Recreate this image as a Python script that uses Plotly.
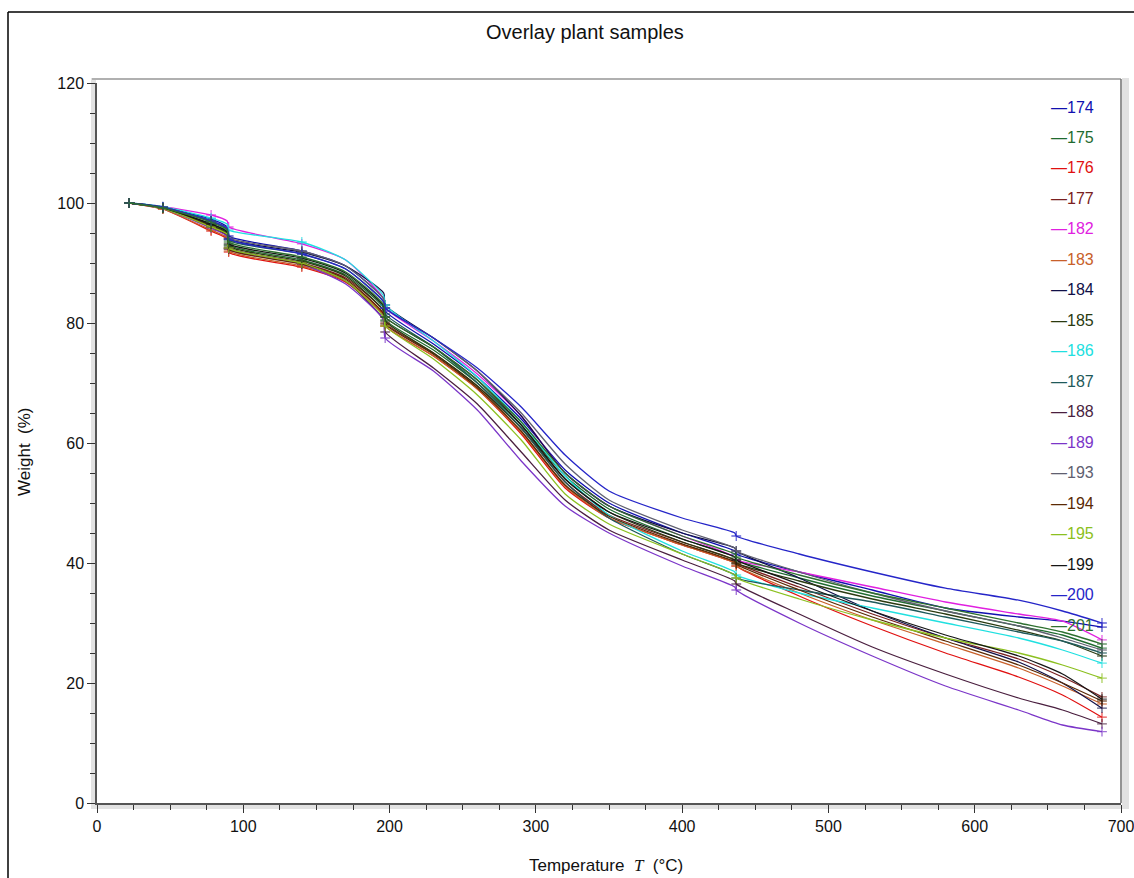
import plotly.graph_objects as go

# ---------------- data ----------------
temps = [22, 45, 78, 89, 90, 140, 170, 196, 197, 230, 260, 290, 320, 350,
         400, 436, 437, 480, 530, 580, 630, 660, 687]
marker_temps = [22, 45, 78, 90, 140, 197, 437, 687]

sample_ids = ["174", "175", "176", "177", "182", "183", "184", "185", "186",
              "187", "188", "189", "193", "194", "195", "199", "200", "201"]

colors = ["#1010B0", "#1F6B2F", "#E01010", "#7A2020", "#E020E0", "#C8602A",
          "#101048", "#2A3A10", "#20E0E0", "#1F5A5A", "#4A1F3F", "#7B35C8",
          "#606070", "#5A2A05", "#8CC020", "#151515", "#2525C8", "#2E7030"]

w174 = [100, 99.3, 97.3, 96.0, 94.5, 92.0, 89.5, 84.0, 82.0, 76.5, 71.0, 64.0, 55.5, 50.0, 45.0, 42.0, 41.5, 38.5, 35.5, 32.5, 31.0, 30.3, 29.3]
w175 = [100, 99.2, 96.5, 95.3, 93.0, 90.5, 88.0, 82.5, 80.5, 75.5, 70.0, 63.0, 54.5, 49.0, 44.0, 41.0, 40.5, 37.5, 34.5, 32.0, 29.5, 28.0, 25.8]
w176 = [100, 99.0, 95.3, 94.0, 91.8, 89.3, 86.8, 81.2, 79.5, 74.5, 69.0, 61.5, 52.5, 47.5, 43.0, 40.0, 39.5, 34.5, 29.5, 25.0, 21.0, 18.0, 14.3]
w177 = [100, 99.2, 96.2, 94.8, 92.5, 90.0, 87.5, 82.0, 80.0, 75.0, 69.5, 62.5, 53.5, 48.0, 43.5, 40.5, 40.0, 36.0, 31.5, 27.5, 24.0, 21.0, 17.7]
w182 = [100, 99.4, 98.0, 97.0, 96.0, 93.2, 90.5, 84.0, 82.5, 77.0, 71.5, 64.5, 55.0, 49.5, 44.5, 41.0, 40.5, 38.5, 36.0, 33.5, 31.5, 30.3, 27.2]
w183 = [100, 99.0, 95.5, 94.2, 92.0, 89.5, 87.0, 81.5, 79.5, 74.5, 69.0, 61.8, 52.8, 47.5, 43.0, 40.0, 39.5, 35.0, 30.5, 26.5, 22.5, 19.5, 16.5]
w184 = [100, 99.3, 97.0, 95.8, 94.0, 91.8, 89.5, 85.0, 83.0, 77.5, 72.0, 64.5, 55.0, 49.5, 45.0, 42.5, 42.0, 37.5, 32.0, 27.5, 23.5, 20.0, 15.8]
w185 = [100, 99.2, 96.3, 95.0, 92.8, 90.3, 87.8, 82.0, 80.3, 75.0, 69.5, 62.5, 54.0, 48.5, 43.5, 40.5, 40.0, 37.0, 34.0, 31.5, 28.8, 27.0, 24.5]
w186 = [100, 99.4, 97.5, 96.5, 95.5, 93.5, 90.5, 84.5, 83.0, 77.0, 71.0, 63.5, 54.5, 48.0, 42.0, 38.5, 38.0, 35.0, 32.5, 30.0, 27.5, 25.5, 23.3]
w187 = [100, 99.3, 97.0, 95.6, 93.8, 91.5, 89.0, 83.5, 81.5, 76.0, 70.0, 62.5, 53.5, 47.5, 41.5, 38.0, 37.5, 35.5, 33.5, 31.0, 28.5, 27.0, 25.0]
w188 = [100, 99.1, 96.0, 94.6, 92.5, 90.0, 87.0, 80.5, 78.5, 72.5, 66.5, 58.5, 50.5, 45.5, 40.5, 37.0, 36.5, 31.5, 26.0, 21.5, 17.5, 15.5, 13.2]
w189 = [100, 99.1, 95.8, 94.5, 92.3, 89.8, 86.5, 80.5, 77.5, 72.0, 65.5, 57.0, 49.5, 45.0, 39.5, 36.0, 35.5, 30.0, 24.5, 19.5, 15.5, 13.0, 11.9]
w193 = [100, 99.3, 97.0, 95.8, 94.2, 92.0, 89.5, 84.0, 82.5, 77.5, 72.0, 65.0, 56.5, 50.5, 45.5, 42.5, 42.0, 38.5, 35.0, 32.0, 29.5, 27.5, 25.5]
w194 = [100, 99.2, 96.0, 94.7, 92.3, 89.8, 87.3, 81.5, 79.8, 74.8, 69.2, 62.0, 53.0, 47.8, 43.2, 40.2, 39.8, 35.5, 31.0, 27.0, 23.0, 20.0, 17.0]
w195 = [100, 99.1, 96.0, 94.8, 92.5, 90.0, 87.0, 81.0, 79.5, 74.0, 68.0, 60.5, 51.5, 46.5, 41.5, 38.0, 37.5, 34.0, 30.5, 27.5, 25.0, 23.0, 20.8]
w199 = [100, 99.2, 96.5, 95.2, 93.2, 90.8, 88.3, 82.8, 81.0, 76.0, 70.5, 63.0, 54.0, 48.5, 44.0, 41.0, 40.5, 36.5, 32.0, 28.0, 24.5, 21.5, 17.3]
w200 = [100, 99.3, 97.0, 95.8, 94.0, 91.5, 89.0, 83.5, 82.5, 77.5, 72.5, 66.0, 58.0, 52.0, 47.5, 45.0, 44.5, 41.5, 38.5, 35.8, 33.8, 32.0, 30.0]
w201 = [100, 99.2, 96.8, 95.5, 93.5, 91.0, 88.5, 83.0, 81.0, 76.0, 70.5, 63.5, 55.0, 49.5, 44.5, 41.5, 41.0, 38.0, 35.0, 32.5, 30.0, 28.5, 26.5]

weights = [w174, w175, w176, w177, w182, w183, w184, w185, w186,
           w187, w188, w189, w193, w194, w195, w199, w200, w201]

x_ticks = [0, 100, 200, 300, 400, 500, 600, 700]
y_ticks = [0, 20, 40, 60, 80, 100, 120]

# ---------------- layout geometry (pixels) ----------------
WIDTH, HEIGHT = 1134, 878
PL, PR, PT, PB = 97, 1121, 83, 803


def fx(px):
    return (px - PL) / (PR - PL)


def fy(py):
    return (PB - py) / (PB - PT)


FONT = "Liberation Sans, Arial, sans-serif"

fig = go.Figure()
for sid, col, w in zip(sample_ids, colors, weights):
    sizes = [7 if t in marker_temps else 0 for t in temps]
    fig.add_trace(go.Scatter(
        x=temps, y=w, name=sid, mode="lines+markers",
        line=dict(color=col, width=1.3, shape="spline", smoothing=0.6),
        marker=dict(symbol="cross-thin", size=sizes,
                    line=dict(color=col, width=1.3), color=col),
        showlegend=False,
    ))

shapes = []
# outer frame (left and top)
shapes.append(dict(type="line", xref="paper", yref="paper",
                   x0=fx(8), x1=fx(8), y0=fy(12), y1=fy(880),
                   line=dict(color="black", width=1.5)))
shapes.append(dict(type="line", xref="paper", yref="paper",
                   x0=fx(8), x1=fx(1136), y0=fy(12), y1=fy(12),
                   line=dict(color="black", width=1.5)))
# 3D-like grey shadows of plot box
shapes.append(dict(type="rect", xref="paper", yref="paper",
                   x0=fx(91), x1=fx(96), y0=fy(78), y1=fy(809),
                   fillcolor="#e2e2e2", line=dict(width=0), layer="below"))
shapes.append(dict(type="rect", xref="paper", yref="paper",
                   x0=fx(91), x1=fx(1121), y0=fy(804), y1=fy(809),
                   fillcolor="#e2e2e2", line=dict(width=0), layer="below"))
shapes.append(dict(type="rect", xref="paper", yref="paper",
                   x0=fx(1122), x1=fx(1129), y0=fy(78), y1=fy(809),
                   fillcolor="#e2e2e2", line=dict(width=0), layer="below"))
shapes.append(dict(type="line", xref="paper", yref="paper",
                   x0=fx(92), x1=fx(1121), y0=fy(79), y1=fy(79),
                   line=dict(color="#b0b0b0", width=2)))
shapes.append(dict(type="line", xref="paper", yref="paper",
                   x0=fx(1121), x1=fx(1121), y0=fy(79), y1=fy(803),
                   line=dict(color="#707070", width=1.5)))

annotations = []
# legend as coloured text entries
for i, (sid, col) in enumerate(zip(sample_ids, colors)):
    ypix = 107 + i * (625 - 107) / 17
    annotations.append(dict(
        x=fx(1049), y=fy(ypix), xref="paper", yref="paper",
        xanchor="left", yanchor="middle", showarrow=False,
        text="\u2014" + sid, font=dict(family=FONT, size=16, color=col)))

annotations.append(dict(
    x=fx(585), y=fy(32), xref="paper", yref="paper", showarrow=False,
    xanchor="center", yanchor="middle", text="Overlay plant samples",
    font=dict(family=FONT, size=20, color="#111")))
annotations.append(dict(
    x=fx(606), y=fy(866), xref="paper", yref="paper", showarrow=False,
    xanchor="center", yanchor="middle",
    text="Temperature  <span style='font-family:Liberation Serif'><i>T</i></span>  (°C)",
    font=dict(family=FONT, size=17, color="#111")))
annotations.append(dict(
    x=fx(25), y=fy(452), xref="paper", yref="paper", showarrow=False,
    xanchor="center", yanchor="middle", textangle=-90,
    text="Weight  (%)", font=dict(family=FONT, size=17, color="#111")))

fig.update_layout(
    width=WIDTH, height=HEIGHT,
    margin=dict(l=PL, r=WIDTH - PR, t=PT, b=HEIGHT - PB),
    paper_bgcolor="white", plot_bgcolor="white",
    shapes=shapes, annotations=annotations,
    showlegend=False,
)
fig.update_xaxes(
    range=[0, 700], tickvals=x_ticks, ticktext=[str(v) for v in x_ticks],
    showgrid=False, zeroline=False, ticklabeloverflow="allow", automargin=False,
    showline=True, linecolor="#555", linewidth=1.5,
    ticks="outside", ticklen=8, tickwidth=1, tickcolor="#333",
    minor=dict(dtick=25, ticks="outside", ticklen=5, tickcolor="#333", showgrid=False),
    tickfont=dict(family=FONT, size=16, color="#111"),
)
fig.update_yaxes(
    range=[0, 120], tickvals=y_ticks, ticktext=[str(v) for v in y_ticks],
    showgrid=False, zeroline=False, ticklabeloverflow="allow", automargin=False,
    showline=True, linecolor="#555", linewidth=1.5,
    ticks="outside", ticklen=8, tickwidth=1, tickcolor="#333",
    minor=dict(dtick=5, ticks="outside", ticklen=5, tickcolor="#333", showgrid=False),
    tickfont=dict(family=FONT, size=16, color="#111"),
)

fig.write_html("out.html")
